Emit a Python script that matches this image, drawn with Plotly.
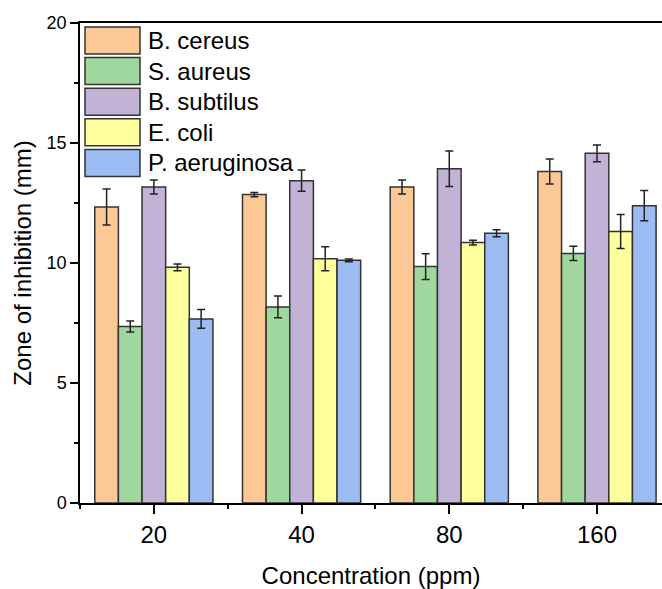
import plotly.graph_objects as go

categories = ["20", "40", "80", "160"]
series_names = ["B. cereus", "S. aureus", "B. subtilus", "E. coli", "P. aeruginosa"]
b_cereus = [12.33, 12.85, 13.17, 13.81]
b_cereus_err = [0.75, 0.09, 0.29, 0.52]
s_aureus = [7.35, 8.17, 9.85, 10.40]
s_aureus_err = [0.23, 0.45, 0.54, 0.30]
b_subtilus = [13.17, 13.43, 13.93, 14.57]
b_subtilus_err = [0.29, 0.44, 0.74, 0.35]
e_coli = [9.82, 10.18, 10.85, 11.31]
e_coli_err = [0.14, 0.50, 0.10, 0.71]
p_aeruginosa = [7.67, 10.11, 11.24, 12.39]
p_aeruginosa_err = [0.39, 0.06, 0.15, 0.63]

values = [b_cereus, s_aureus, b_subtilus, e_coli, p_aeruginosa]
errors = [b_cereus_err, s_aureus_err, b_subtilus_err, e_coli_err, p_aeruginosa_err]
colors = ["#FCC896", "#9FD79E", "#C2B2D6", "#FFFF9E", "#9BBBF2"]

FONT = "Liberation Sans, Arial, sans-serif"
W, H = 662, 589
ML, MR, MT, MB = 80, 0, 23, 86
PW, PH = W - ML - MR, H - MT - MB

xpos = list(range(len(categories)))
fig = go.Figure()
for name, vals, errs, col in zip(series_names, values, errors, colors):
    fig.add_trace(go.Bar(
        x=xpos, y=vals, name=name,
        marker=dict(color=col, line=dict(color="#333333", width=1.5)),
        error_y=dict(type="data", array=errs, visible=True,
                     color="#222222", thickness=1.5, width=4),
        showlegend=False,
    ))

# custom legend (swatches + labels) in paper coordinates
shapes = []
annotations = []
for i, (name, col) in enumerate(zip(series_names, colors)):
    top = 27 + i * 30.6
    bot = top + 27
    shapes.append(dict(type="rect", xref="paper", yref="paper",
                       x0=(85 - ML) / PW, x1=(140 - ML) / PW,
                       y0=(MT + PH - bot) / PH, y1=(MT + PH - top) / PH,
                       fillcolor=col, line=dict(color="#333333", width=1.5)))
    annotations.append(dict(xref="paper", yref="paper",
                            x=(146 - ML) / PW, y=(MT + PH - (top + bot) / 2) / PH,
                            text=name, showarrow=False, xanchor="left", yanchor="middle",
                            font=dict(family=FONT, size=24, color="black")))

fig.update_layout(
    width=W, height=H,
    margin=dict(l=ML, r=MR, t=MT, b=MB, autoexpand=False),
    paper_bgcolor="white", plot_bgcolor="white",
    barmode="group", bargap=0.2, bargroupgap=0,
    font=dict(family=FONT, color="black"),
    shapes=shapes, annotations=annotations,
    xaxis=dict(
        range=[-0.5, 3.44], automargin=False,
        tickmode="array", tickvals=xpos, ticktext=categories,
        ticks="outside", ticklen=9, tickwidth=1.5, tickcolor="black",
        minor=dict(tick0=0.5, dtick=1, ticks="outside", ticklen=4, tickwidth=1.5, tickcolor="black"),
        showline=True, linecolor="black", linewidth=1.5, mirror=True,
        showgrid=False, zeroline=False,
        tickfont=dict(family=FONT, size=24),
        title=dict(text="Concentration (ppm)", font=dict(family=FONT, size=24), standoff=22),
    ),
    yaxis=dict(
        range=[0, 20], tick0=0, dtick=5, automargin=False,
        ticks="outside", ticklen=8, tickwidth=1.5, tickcolor="black",
        minor=dict(dtick=2.5, ticks="outside", ticklen=4, tickwidth=1.5, tickcolor="black"),
        showline=True, linecolor="black", linewidth=1.5,
        showgrid=False, zeroline=False,
        tickfont=dict(family=FONT, size=18),
        title=dict(text="Zone of inhibition (mm)", font=dict(family=FONT, size=24), standoff=8),
    ),
)

fig.write_html(
    "out.html",
    config={"displayModeBar": False},
    post_script="document.body.style.margin='0';document.body.style.overflow='hidden';",
)
